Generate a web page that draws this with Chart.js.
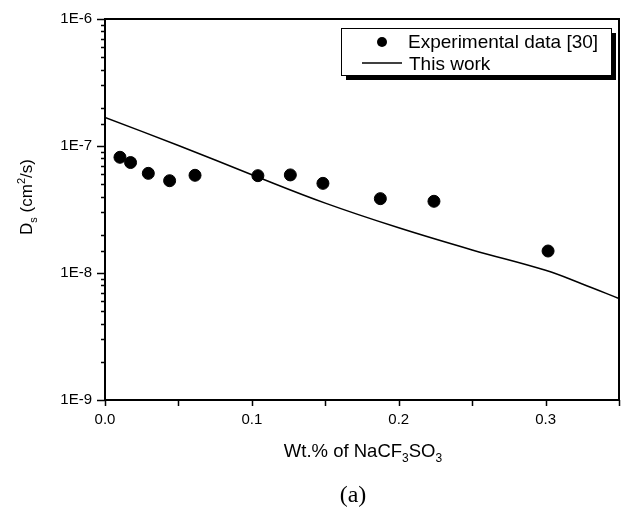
<!DOCTYPE html>
<html>
<head>
<meta charset="utf-8">
<script src="https://cdn.jsdelivr.net/npm/chart.js@4.4.1/dist/chart.umd.min.js"></script>
<style>
  html, body { margin: 0; padding: 0; background: #fff; overflow: hidden; }
  #wrap { width: 626px; height: 509px; }
</style>
</head>
<body>
<div id="wrap"><canvas id="chart"></canvas></div>
<script>
// data
var expX = [0.0102, 0.0174, 0.0295, 0.044, 0.0613, 0.1041, 0.1262, 0.1484, 0.1875, 0.2240, 0.3017];
var expD = [8.15e-8, 7.41e-8, 6.09e-8, 5.33e-8, 5.88e-8, 5.84e-8, 5.92e-8, 5.08e-8, 3.85e-8, 3.67e-8, 1.49e-8];
var modelX = [0, 0.05, 0.1, 0.15, 0.2, 0.25, 0.3, 0.325, 0.35];
var modelD = [1.68e-7, 1.01e-7, 5.94e-8, 3.55e-8, 2.27e-8, 1.52e-8, 1.05e-8, 8.2e-9, 6.3e-9];
var xTickLabels = ['0.0', '0.1', '0.2', '0.3'];
var yTickLabels = ['1E-9', '1E-8', '1E-7', '1E-6'];

var SANS = '"Liberation Sans", Arial, sans-serif';

function toPoints(xs, ys) {
    return xs.map(function (x, i) { return { x: x, y: ys[i] }; });
}

function isDecade(v) {
    var e = Math.log10(v);
    return Math.abs(e - Math.round(e)) < 1e-6;
}

// draws text made of pieces (for sub/superscripts), centred on x
function drawRich(c, parts, x, y) {
    var total = 0;
    parts.forEach(function (p) {
        c.font = p.size + 'px ' + (p.family || SANS);
        total += c.measureText(p.t).width;
    });
    var cx = x - total / 2;
    c.textAlign = 'left';
    c.textBaseline = 'alphabetic';
    parts.forEach(function (p) {
        c.font = p.size + 'px ' + (p.family || SANS);
        c.fillText(p.t, cx, y + (p.dy || 0));
        cx += c.measureText(p.t).width;
    });
}

var framePlugin = {
    id: 'frame',
    afterDraw: function (chart) {
        var c = chart.ctx;
        var a = chart.chartArea;
        var xs = chart.scales.x, ys = chart.scales.y;
        c.save();
        c.strokeStyle = '#000';
        c.fillStyle = '#000';

        // tick marks
        c.lineWidth = 1.5;
        c.beginPath();
        xs.ticks.forEach(function (t) {
            var px = Math.round(xs.getPixelForValue(t.value)) + 0.5;
            c.moveTo(px, a.bottom);
            c.lineTo(px, a.bottom + 6);
        });
        ys.ticks.forEach(function (t) {
            var py = Math.round(ys.getPixelForValue(t.value)) + 0.5;
            var len = isDecade(t.value) ? 8 : 4;
            c.moveTo(a.left, py);
            c.lineTo(a.left - len, py);
        });
        c.stroke();

        // box round the plot
        c.lineWidth = 2;
        c.strokeRect(a.left, a.top, a.right - a.left, a.bottom - a.top);

        // legend with drop shadow
        var lx = 341, ly = 28, lw = 270, lh = 47;
        c.fillRect(lx + 5, ly + 5, lw, lh);
        c.fillStyle = '#fff';
        c.fillRect(lx, ly, lw, lh);
        c.lineWidth = 1;
        c.strokeRect(lx + 0.5, ly + 0.5, lw, lh);
        c.fillStyle = '#000';
        c.beginPath();
        c.arc(382, 42, 5, 0, Math.PI * 2);
        c.fill();
        c.lineWidth = 1.3;
        c.beginPath();
        c.moveTo(362, 63);
        c.lineTo(402, 63);
        c.stroke();
        c.font = '19px ' + SANS;
        c.textAlign = 'left';
        c.textBaseline = 'alphabetic';
        c.fillText(chart.data.datasets[0].label, 408, 48);
        c.fillText(chart.data.datasets[1].label, 409, 70);

        // axis titles
        drawRich(c, [
            { t: 'Wt.% of NaCF', size: 18.5 },
            { t: '3', size: 12, dy: 5 },
            { t: 'SO', size: 18.5 },
            { t: '3', size: 12, dy: 5 }
        ], 363, 457);

        c.save();
        c.translate(32, 197);
        c.rotate(-Math.PI / 2);
        drawRich(c, [
            { t: 'D', size: 17 },
            { t: 's', size: 11, dy: 5 },
            { t: ' (cm', size: 17 },
            { t: '2', size: 11, dy: -7 },
            { t: '/s)', size: 17 }
        ], 0, 0);
        c.restore();

        drawRich(c, [{ t: '(a)', size: 24, family: '"Liberation Serif", "Times New Roman", serif' }], 353, 502);
        c.restore();
    }
};

var ctx = document.getElementById('chart').getContext('2d');
new Chart(ctx, {
    type: 'scatter',
    data: {
        datasets: [{
            label: 'Experimental data [30]',
            data: toPoints(expX, expD),
            backgroundColor: '#000',
            borderColor: '#000',
            pointRadius: 6,
            pointHoverRadius: 6,
            showLine: false
        }, {
            label: 'This work',
            data: toPoints(modelX, modelD),
            borderColor: '#000',
            borderWidth: 1.5,
            pointRadius: 0,
            showLine: true,
            tension: 0.4
        }]
    },
    options: {
        responsive: true,
        maintainAspectRatio: false,
        animation: false,
        layout: { padding: { top: 19, right: 0, left: 0, bottom: 0 } },
        plugins: {
            legend: { display: false },
            tooltip: { enabled: false }
        },
        scales: {
            x: {
                type: 'linear',
                min: 0,
                max: 0.35,
                afterFit: function (s) {
                    s.height = 109;
                    s.paddingLeft = 0;
                    s.paddingRight = 0;
                },
                grid: { display: false },
                border: { display: false },
                ticks: {
                    stepSize: 0.05,
                    autoSkip: false,
                    maxRotation: 0,
                    padding: 3,
                    color: '#000',
                    font: { family: SANS, size: 15 },
                    callback: function (v) {
                        var i = Math.round(v * 10);
                        return Math.abs(v * 10 - i) < 1e-6 ? xTickLabels[i] : '';
                    }
                }
            },
            y: {
                type: 'logarithmic',
                min: 1e-9,
                max: 1e-6,
                afterFit: function (s) {
                    s.width = 105;
                    s.paddingTop = 0;
                    s.paddingBottom = 0;
                },
                grid: { display: false },
                border: { display: false },
                ticks: {
                    autoSkip: false,
                    padding: 5,
                    color: '#000',
                    font: { family: SANS, size: 15 },
                    callback: function (v) {
                        if (!isDecade(v)) return '';
                        return yTickLabels[Math.round(Math.log10(v)) + 9];
                    }
                }
            }
        }
    },
    plugins: [framePlugin]
});
</script>
</body>
</html>
